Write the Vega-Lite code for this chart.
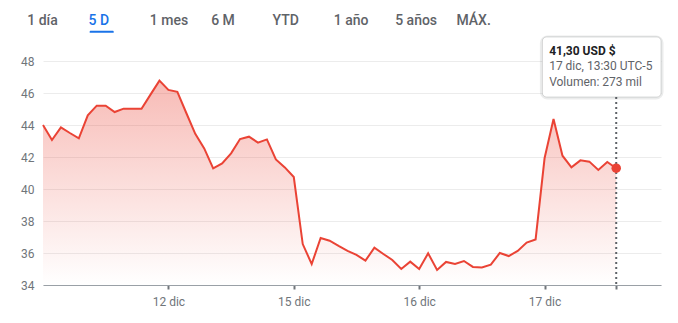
{
  "$schema": "https://vega.github.io/schema/vega-lite/v6.json",
  "background": "white",
  "padding": {"left": 20, "top": 6, "right": 10, "bottom": 5},
  "bounds": "flush",
  "spacing": 25,
  "config": {
    "view": {"stroke": null},
    "font": "Roboto",
    "axis": {"labelFont": "Roboto", "labelFontSize": 12, "labelColor": "#70757a"}
  },
  "datasets": {
    "tabs": [
      {"tab": "1 día"}, {"tab": "5 D"}, {"tab": "1 mes"}, {"tab": "6 M"},
      {"tab": "YTD"}, {"tab": "1 año"}, {"tab": "5 años"}, {"tab": "MÁX."}
    ],
    "price": [
      {"i": 0, "v": 44.0}, {"i": 1, "v": 43.06}, {"i": 2, "v": 43.85}, {"i": 3, "v": 43.5},
      {"i": 4, "v": 43.17}, {"i": 5, "v": 44.6}, {"i": 6, "v": 45.21}, {"i": 7, "v": 45.21},
      {"i": 8, "v": 44.81}, {"i": 9, "v": 45.02}, {"i": 10, "v": 45.02}, {"i": 11, "v": 45.02},
      {"i": 12, "v": 45.9}, {"i": 13, "v": 46.77}, {"i": 14, "v": 46.19}, {"i": 15, "v": 46.07},
      {"i": 16, "v": 44.75}, {"i": 17, "v": 43.45}, {"i": 18, "v": 42.54}, {"i": 19, "v": 41.29},
      {"i": 20, "v": 41.6}, {"i": 21, "v": 42.23}, {"i": 22, "v": 43.12}, {"i": 23, "v": 43.27},
      {"i": 24, "v": 42.9}, {"i": 25, "v": 43.1}, {"i": 26, "v": 41.85}, {"i": 27, "v": 41.35},
      {"i": 28, "v": 40.75}, {"i": 29, "v": 36.56}, {"i": 30, "v": 35.31}, {"i": 31, "v": 36.94},
      {"i": 32, "v": 36.77}, {"i": 33, "v": 36.44}, {"i": 34, "v": 36.13}, {"i": 35, "v": 35.88},
      {"i": 36, "v": 35.52}, {"i": 37, "v": 36.33}, {"i": 38, "v": 35.94}, {"i": 39, "v": 35.56},
      {"i": 40, "v": 35.0}, {"i": 41, "v": 35.46}, {"i": 42, "v": 35.0}, {"i": 43, "v": 35.98},
      {"i": 44, "v": 34.94}, {"i": 45, "v": 35.44}, {"i": 46, "v": 35.31}, {"i": 47, "v": 35.5},
      {"i": 48, "v": 35.13}, {"i": 49, "v": 35.1}, {"i": 50, "v": 35.27}, {"i": 51, "v": 36.0},
      {"i": 52, "v": 35.81}, {"i": 53, "v": 36.13}, {"i": 54, "v": 36.65}, {"i": 55, "v": 36.85},
      {"i": 56, "v": 41.92}, {"i": 57, "v": 44.38}, {"i": 58, "v": 42.08}, {"i": 59, "v": 41.35},
      {"i": 60, "v": 41.79}, {"i": 61, "v": 41.71}, {"i": 62, "v": 41.19}, {"i": 63, "v": 41.69},
      {"i": 64, "v": 41.3}
    ],
    "tip": [
      {"i": 64, "v": 41.3, "price": "41,30 USD $", "time": "17 dic, 13:30 UTC-5", "vol": "Volumen: 273 mil"}
    ]
  },
  "vconcat": [
    {
      "width": 490.6,
      "height": 30,
      "data": {"name": "tabs"},
      "layer": [
        {
          "mark": {"type": "text", "align": "left", "baseline": "middle", "dx": -15.8, "fontSize": 14, "fontWeight": 500, "font": "Roboto"},
          "encoding": {
            "x": {"field": "tab", "type": "nominal", "sort": null, "bandPosition": 0,
                  "scale": {"paddingInner": 0, "paddingOuter": 0}, "axis": null},
            "y": {"datum": 0.5, "type": "quantitative", "scale": {"domain": [0, 1]}, "axis": null},
            "text": {"field": "tab"},
            "color": {"condition": {"test": "datum.tab === '5 D'", "value": "#1a73e8"}, "value": "#5f6368"}
          }
        },
        {
          "transform": [{"filter": "datum.tab === '5 D'"}],
          "mark": {"type": "bar", "width": 24, "xOffset": -33.3, "color": "#1a73e8",
                   "cornerRadiusTopLeft": 2, "cornerRadiusTopRight": 2},
          "encoding": {
            "x": {"field": "tab", "type": "nominal", "sort": null, "axis": null},
            "y": {"datum": 0.177, "type": "quantitative", "axis": null},
            "y2": {"datum": 0.11}
          }
        }
      ]
    },
    {
      "width": 618,
      "height": 224,
      "layer": [
        {
          "data": {"name": "price"},
          "mark": {"type": "area", "fill": {"gradient": "linear", "x1": 0, "y1": 0, "x2": 0, "y2": 1,
                   "stops": [{"offset": 0, "color": "rgba(234,67,53,0.36)"}, {"offset": 1, "color": "rgba(234,67,53,0)"}]}},
          "encoding": {
            "x": {"field": "i", "type": "quantitative",
                  "scale": {"domain": [0, 69], "nice": false, "zero": false},
                  "axis": {"title": null, "values": [14, 28, 42, 56, 64], "grid": false,
                           "labelExpr": "datum.value == 14 ? '12 dic' : datum.value == 28 ? '15 dic' : datum.value == 42 ? '16 dic' : datum.value == 56 ? '17 dic' : ''",
                           "domainColor": "#9aa0a6", "tickColor": "#70757a", "tickSize": 4, "tickWidth": 2,
                           "labelPadding": 7, "labelFlush": false}},
            "y": {"field": "v", "type": "quantitative",
                  "scale": {"domain": [34, 48], "nice": false, "zero": false},
                  "axis": {"title": null, "values": [34, 36, 38, 40, 42, 44, 46, 48], "grid": true,
                           "gridColor": "#ececec", "domain": false, "ticks": false, "labelPadding": 9,
                           "labelOverlap": false, "labelFlush": false}},
            "y2": {"datum": 34}
          }
        },
        {
          "data": {"name": "price"},
          "mark": {"type": "line", "color": "#ea4335", "strokeWidth": 2},
          "encoding": {
            "x": {"field": "i", "type": "quantitative"},
            "y": {"field": "v", "type": "quantitative",
                  "axis": {"title": null, "values": [34, 36, 38, 40, 42, 44, 46, 48], "grid": true,
                           "gridColor": "#ececec", "domain": false, "ticks": false, "labelPadding": 9,
                           "labelOverlap": false, "labelFlush": false}}
          }
        },
        {
          "data": {"name": "tip"},
          "mark": {"type": "rule", "color": "#5f6368", "strokeWidth": 2, "strokeDash": [2, 3]},
          "encoding": {
            "x": {"field": "i", "type": "quantitative"},
            "y": {"datum": 45.75, "type": "quantitative",
                  "axis": {"title": null, "values": [34, 36, 38, 40, 42, 44, 46, 48], "grid": true,
                           "gridColor": "#ececec", "domain": false, "ticks": false, "labelPadding": 9,
                           "labelOverlap": false, "labelFlush": false}},
            "y2": {"datum": 34}
          }
        },
        {
          "data": {"name": "tip"},
          "mark": {"type": "circle", "size": 90, "color": "#ea4335", "opacity": 1},
          "encoding": {
            "x": {"field": "i", "type": "quantitative"},
            "y": {"field": "v", "type": "quantitative",
                  "axis": {"title": null, "values": [34, 36, 38, 40, 42, 44, 46, 48], "grid": true,
                           "gridColor": "#ececec", "domain": false, "ticks": false, "labelPadding": 9,
                           "labelOverlap": false, "labelFlush": false}}
          }
        },
        {
          "data": {"name": "tip"},
          "mark": {"type": "rect", "fill": "white", "stroke": "#3c4043", "strokeOpacity": 0.1, "strokeWidth": 5, "cornerRadius": 5, "yOffset": 1},
          "encoding": {
            "x": {"datum": 55.76}, "x2": {"datum": 69},
            "y": {"datum": 49.5, "type": "quantitative",
                  "axis": {"title": null, "values": [34, 36, 38, 40, 42, 44, 46, 48], "grid": true,
                           "gridColor": "#ececec", "domain": false, "ticks": false, "labelPadding": 9,
                           "labelOverlap": false, "labelFlush": false}},
            "y2": {"datum": 45.75}
          }
        },
        {
          "data": {"name": "tip"},
          "mark": {"type": "rect", "fill": "white", "stroke": "#3c4043", "strokeOpacity": 0.18, "strokeWidth": 1, "cornerRadius": 4},
          "encoding": {
            "x": {"datum": 55.76}, "x2": {"datum": 69},
            "y": {"datum": 49.5, "type": "quantitative",
                  "axis": {"title": null, "values": [34, 36, 38, 40, 42, 44, 46, 48], "grid": true,
                           "gridColor": "#ececec", "domain": false, "ticks": false, "labelPadding": 9,
                           "labelOverlap": false, "labelFlush": false}},
            "y2": {"datum": 45.75}
          }
        },
        {
          "data": {"name": "tip"},
          "mark": {"type": "text", "align": "left", "baseline": "middle", "fontSize": 12, "fontWeight": "bold", "color": "#202124", "font": "Roboto"},
          "encoding": {
            "x": {"datum": 56.51},
            "y": {"datum": 48.64, "type": "quantitative",
                  "axis": {"title": null, "values": [34, 36, 38, 40, 42, 44, 46, 48], "grid": true,
                           "gridColor": "#ececec", "domain": false, "ticks": false, "labelPadding": 9,
                           "labelOverlap": false, "labelFlush": false}},
            "text": {"field": "price"}
          }
        },
        {
          "data": {"name": "tip"},
          "mark": {"type": "text", "align": "left", "baseline": "middle", "fontSize": 12, "color": "#5f6368", "font": "Roboto"},
          "encoding": {
            "x": {"datum": 56.51},
            "y": {"datum": 47.69, "type": "quantitative",
                  "axis": {"title": null, "values": [34, 36, 38, 40, 42, 44, 46, 48], "grid": true,
                           "gridColor": "#ececec", "domain": false, "ticks": false, "labelPadding": 9,
                           "labelOverlap": false, "labelFlush": false}},
            "text": {"field": "time"}
          }
        },
        {
          "data": {"name": "tip"},
          "mark": {"type": "text", "align": "left", "baseline": "middle", "fontSize": 12, "color": "#5f6368", "font": "Roboto"},
          "encoding": {
            "x": {"datum": 56.51},
            "y": {"datum": 46.71, "type": "quantitative",
                  "axis": {"title": null, "values": [34, 36, 38, 40, 42, 44, 46, 48], "grid": true,
                           "gridColor": "#ececec", "domain": false, "ticks": false, "labelPadding": 9,
                           "labelOverlap": false, "labelFlush": false}},
            "text": {"field": "vol"}
          }
        }
      ]
    }
  ]
}
